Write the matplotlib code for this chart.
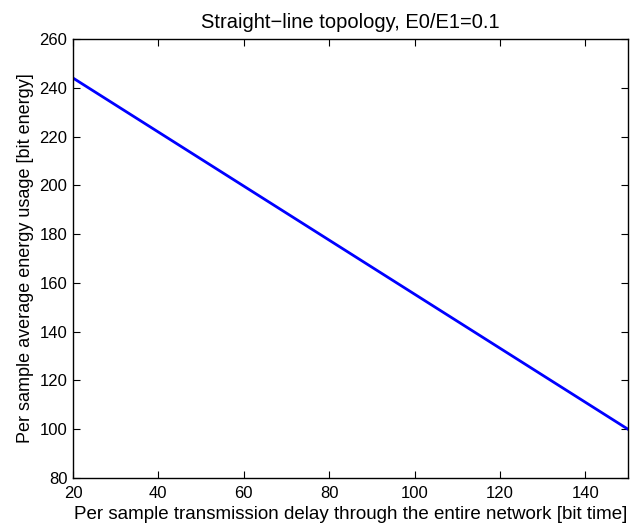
import matplotlib
matplotlib.use("Agg")
import matplotlib.pyplot as plt

delay = [20, 150]
energy = [244, 100]
xticks = [20, 40, 60, 80, 100, 120, 140]
yticks = [80, 100, 120, 140, 160, 180, 200, 220, 240, 260]

plt.rcParams['font.family'] = ['Liberation Sans', 'DejaVu Sans']
plt.rcParams['font.size'] = 12

fig = plt.figure(figsize=(6.34, 5.29), dpi=100)
ax = fig.add_axes([0.1151, 0.0964, 0.8754, 0.8299])
ax.plot(delay, energy, color='#0000ff', linewidth=2.0)
ax.set_xlim(20, 150)
ax.set_ylim(80, 260)
ax.set_xticks(xticks)
ax.set_yticks(yticks)
ax.tick_params(direction='in', top=True, right=True, length=5, width=0.8)
ax.tick_params(axis='x', pad=6)
ax.tick_params(axis='y', pad=4)
for s in ax.spines.values():
    s.set_linewidth(1.0)
ax.set_title("Straight\u2212line topology, E0/E1=0.1", fontsize=14.5, pad=8)
ax.set_xlabel("Per sample transmission delay through the entire network [bit time]",
              fontsize=13.5, labelpad=3)
ax.set_ylabel("Per sample average energy usage [bit energy]", fontsize=13, labelpad=4)
fig.savefig("out.png", dpi=100)
